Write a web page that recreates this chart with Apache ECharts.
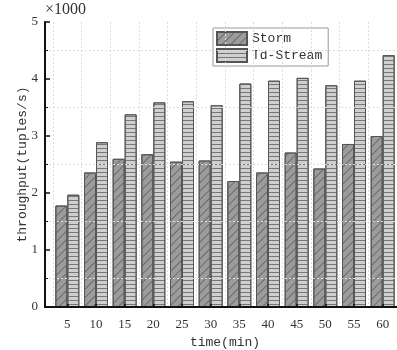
<!DOCTYPE html>
<html>
<head>
<meta charset="utf-8">
<script src="https://cdn.jsdelivr.net/npm/echarts@6/dist/echarts.min.js"></script>
<style>
  html, body { margin: 0; padding: 0; background: #fff; }
  #chart { width: 397px; height: 350px; }
</style>
</head>
<body>
<div id="chart"></div>
<script>
// 时间点 (min)
const times = ['5', '10', '15', '20', '25', '30', '35', '40', '45', '50', '55', '60']
// 吞吐量, 单位 x1000 tuples/s
const storm = [1.78, 2.36, 2.6, 2.68, 2.55, 2.57, 2.21, 2.36, 2.71, 2.43, 2.86, 3.0]
const tdStream = [1.97, 2.89, 3.38, 3.59, 3.61, 3.54, 3.92, 3.97, 4.02, 3.89, 3.97, 4.42]
const yTicks = [0, 1, 2, 3, 4, 5]

const monoFont = "'Liberation Mono', 'DejaVu Sans Mono', monospace"
const serifFont = "'Liberation Serif', 'DejaVu Serif', serif"

const chart = echarts.init(document.getElementById('chart'))

const option = {
  animation: false,
  grid: [
    // frame grid: axis lines, y ticks, horizontal grid lines
    { left: 45, right: 0, top: 22, bottom: 43, outerBoundsMode: 'none', containLabel: false },
    // bar grid
    { left: 53, right: 0, top: 22, bottom: 43, outerBoundsMode: 'none', containLabel: false }
  ],
  legend: {
    orient: 'vertical',
    left: 213,
    top: 28,
    padding: [3, 6, 3, 3],
    itemWidth: 30,
    itemHeight: 13,
    itemGap: 2,
    icon: 'rect',
    backgroundColor: '#fff',
    borderColor: '#999',
    borderWidth: 1,
    borderRadius: 0,
    textStyle: { fontFamily: monoFont, fontSize: 13, color: '#333' },
    data: ['Storm', 'Td-Stream']
  },
  xAxis: [
    {
      gridIndex: 0, type: 'value', min: 0, max: 1, position: 'bottom', z: 5,
      axisLine: { show: true, lineStyle: { color: '#111', width: 2 } },
      axisTick: { show: false }, axisLabel: { show: false }, splitLine: { show: false }
    },
    {
      gridIndex: 0, type: 'value', min: 0, max: 1, position: 'top', z: 5,
      axisLine: { show: true, lineStyle: { color: '#111', width: 2 } },
      axisTick: { show: false }, axisLabel: { show: false }, splitLine: { show: false }
    },
    {
      gridIndex: 1, type: 'category', data: times, position: 'bottom', z: 5,
      boundaryGap: true,
      name: 'time(min)',
      nameLocation: 'middle',
      nameGap: 29,
      nameTextStyle: { fontFamily: monoFont, fontSize: 13, color: '#333' },
      axisLine: { show: false },
      axisTick: { show: true, inside: true, length: 3, alignWithLabel: true, lineStyle: { color: '#111', width: 1.5 } },
      axisLabel: { fontFamily: serifFont, fontSize: 13, color: '#333', margin: 11 },
      splitLine: { show: true, lineStyle: { color: '#ddd', type: [2, 2], width: 1 } }
    }
  ],
  yAxis: [
    {
      gridIndex: 0, type: 'value', min: yTicks[0], max: yTicks[yTicks.length - 1], interval: 1, z: 5,
      name: '×1000',
      nameLocation: 'end',
      nameGap: 4,
      nameTextStyle: { fontFamily: serifFont, fontSize: 16, color: '#333', align: 'left' },
      axisLine: { show: true, lineStyle: { color: '#111', width: 2 } },
      axisTick: { show: true, inside: true, length: 5, lineStyle: { color: '#111', width: 1.5 } },
      minorTick: { show: true, splitNumber: 2, length: 3, lineStyle: { color: '#111', width: 1 } },
      axisLabel: { fontFamily: serifFont, fontSize: 13, color: '#333', margin: 7 },
      splitLine: { show: false },
      minorSplitLine: { show: true, lineStyle: { color: '#ddd', type: [2, 2], width: 1 } }
    },
    {
      gridIndex: 0, type: 'value', min: 0, max: 5, position: 'left',
      name: 'throughput(tuples/s)',
      nameLocation: 'middle',
      nameGap: 16,
      nameTextStyle: { fontFamily: monoFont, fontSize: 13, color: '#333' },
      axisLine: { show: false }, axisTick: { show: false }, axisLabel: { show: false }, splitLine: { show: false }
    },
    {
      gridIndex: 1, type: 'value', min: 0, max: 5, show: false
    }
  ],
  series: [
    {
      name: 'Storm',
      type: 'bar',
      xAxisIndex: 2,
      yAxisIndex: 2,
      data: storm,
      barWidth: 12,
      barGap: '0%',
      itemStyle: {
        color: '#9c9c9c',
        borderColor: '#555',
        borderWidth: 1,
        decal: {
          symbol: 'rect', symbolSize: 1, color: '#6a6a6a',
          dashArrayX: [1, 0], dashArrayY: [1, 5], rotation: -Math.PI / 4
        }
      }
    },
    {
      name: 'Td-Stream',
      type: 'bar',
      xAxisIndex: 2,
      yAxisIndex: 2,
      data: tdStream,
      barWidth: 12,
      barGap: '0%',
      itemStyle: {
        color: '#cfcfcf',
        borderColor: '#555',
        borderWidth: 1,
        decal: {
          symbol: 'rect', symbolSize: 1, color: '#777',
          dashArrayX: [1, 0], dashArrayY: [1, 3], rotation: 0
        }
      }
    }
  ]
}

chart.setOption(option, { notMerge: true })
</script>
</body>
</html>
